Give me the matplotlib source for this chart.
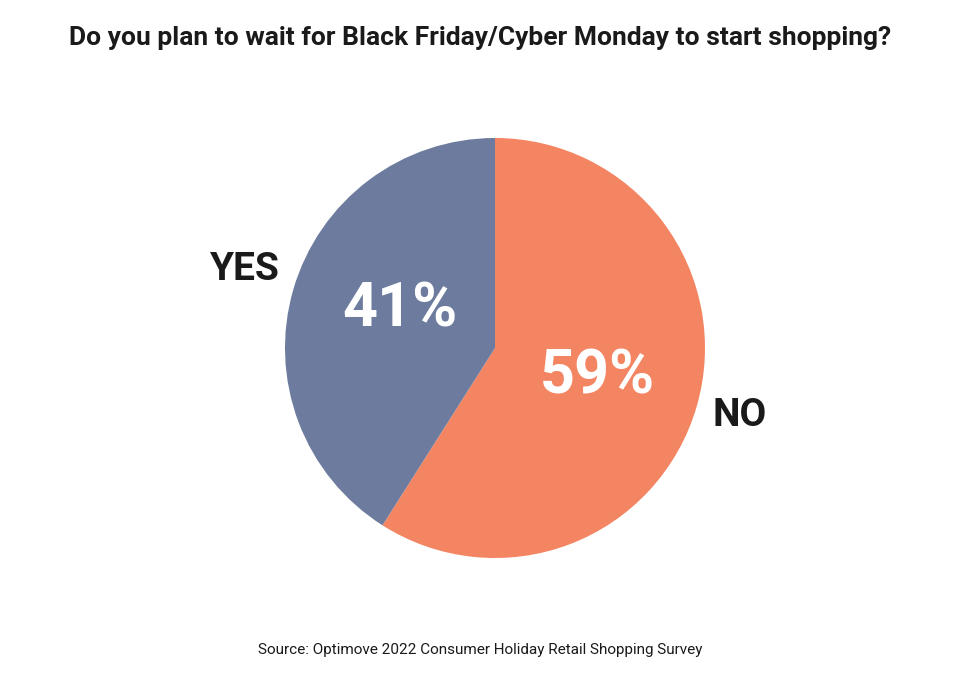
import matplotlib
matplotlib.use("Agg")
import matplotlib.pyplot as plt

labels = ["NO", "YES"]
values = [59, 41]
colors = ["#F48563", "#6C7B9E"]
title = "Do you plan to wait for Black Friday/Cyber Monday to start shopping?"
source = "Source: Optimove 2022 Consumer Holiday Retail Shopping Survey"

plt.rcParams['font.family'] = ['Roboto', 'DejaVu Sans']
W, H = 980, 686
fig = plt.figure(figsize=(W/100, H/100), dpi=100)
cx, cy, r = 495, 348, 210
ax = fig.add_axes([(cx-r)/W, (H-cy-r)/H, 2*r/W, 2*r/H])
ax.pie(values, colors=colors, startangle=90, counterclock=False, radius=1)
ax.set_xlim(-1, 1); ax.set_ylim(-1, 1); ax.set_aspect('equal'); ax.axis('off')

def ft(x, y, s, **kw):
    fig.text(x/W, 1-y/H, s, ha='center', va='center', **kw)

ft(480, 38, title, fontsize=19, fontweight='bold', color='#1a1a1a')
ft(400, 310, f"{values[1]}%", fontsize=44, fontweight='bold', color='white')
ft(597, 377, f"{values[0]}%", fontsize=44, fontweight='bold', color='white')
ft(245, 270, labels[1], fontsize=28, fontweight='bold', color='#1a1a1a')
ft(740, 415, labels[0], fontsize=28, fontweight='bold', color='#1a1a1a')
ft(480, 650, source, fontsize=11, color='#1a1a1a')
fig.savefig("out.png", dpi=100)
